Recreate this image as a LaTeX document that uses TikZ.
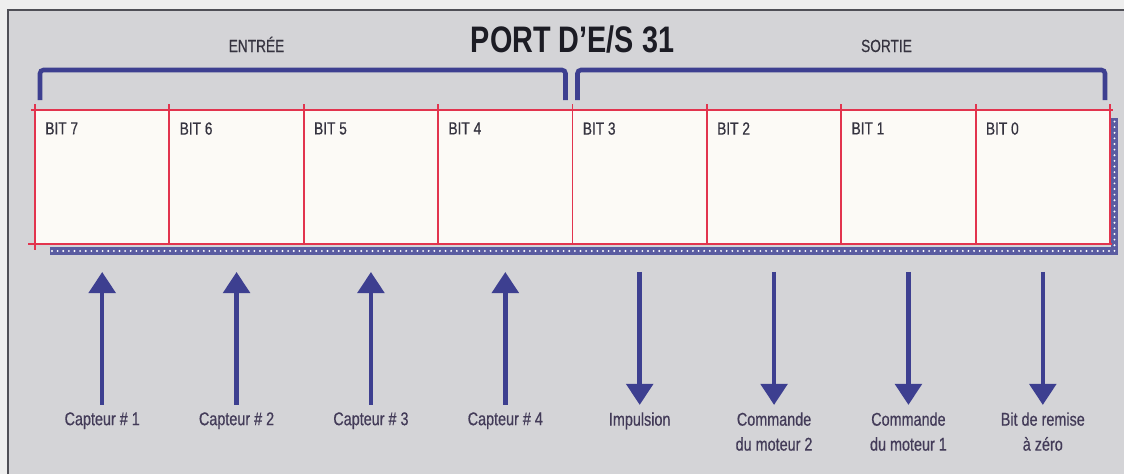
\documentclass[tikz,border=0pt]{standalone}
\usepackage{fontspec}
\setmainfont{Liberation Sans}[FakeStretch=0.78]
\newfontfamily\sigfont{Liberation Sans}[FakeStretch=0.78, FakeBold=0.5]
\usepackage{xcolor}
\usepackage{tikz}
\usetikzlibrary{arrows.meta, positioning, calc}
\definecolor{pagegray}{HTML}{EEEEEE}
\definecolor{panelgray}{HTML}{D4D4D7}
\definecolor{framegray}{HTML}{4F4F56}
\definecolor{regred}{HTML}{E2344E}
\definecolor{cellwhite}{HTML}{FCFAF6}
\definecolor{portblue}{HTML}{3D3F90}
\definecolor{ink}{HTML}{35333F}
\definecolor{sigink}{HTML}{433B58}
\definecolor{titleink}{HTML}{1C1C24}
\tikzset{
    cell/.style={draw=regred, fill=cellwhite, line width=1.1pt, outer sep=0pt, inner sep=0pt,
                 minimum width=2.688cm, minimum height=2.68cm},
    regline/.style={regred, line width=1.1pt},
    bitlbl/.style={anchor=north west, inner sep=0pt, text=ink, font=\sigfont\fontsize{10}{12}\selectfont},
    sig/.style={inner sep=0pt, align=center, text=sigink, font=\sigfont\fontsize{10.5}{14.2}\selectfont},
    grp/.style={anchor=base, inner sep=0pt, text=ink, font=\sigfont\fontsize{10}{12}\selectfont},
    brk/.style={portblue, line width=2.6pt, rounded corners=2pt},
    shad/.style={fill=portblue!85},
    shaddots/.style={white, line width=1.2pt, line cap=round, dash pattern=on 0pt off 3.2pt},
    inarr/.style={portblue, line width=2.6pt, -{Triangle[width=15pt,length=12pt]},
                  shorten <=0.14cm, shorten >=0.56cm},
    outarr/.style={portblue, line width=2.6pt, -{Triangle[width=15pt,length=12pt]},
                   shorten <=0.56cm, shorten >=0.14cm}
}
\begin{document}
\begin{tikzpicture}[x=0.02cm, y=-0.02cm]
        \useasboundingbox (0,0) rectangle (1124,474);
        \fill[pagegray] (0,0) rectangle (1124,474);
        \fill[panelgray] (8,10) rectangle (1124,474);
        \draw[framegray, line width=0.8pt] (8,474) -- (8,10) -- (1124,10);
        % register cells
        \node[cell, anchor=north west] (bit7) at (35,110) {};
        \node[cell, right=0pt of bit7] (bit6) {};
        \node[cell, right=0pt of bit6] (bit5) {};
        \node[cell, right=0pt of bit5] (bit4) {};
        \node[cell, right=0pt of bit4] (bit3) {};
        \node[cell, right=0pt of bit3] (bit2) {};
        \node[cell, right=0pt of bit2] (bit1) {};
        \node[cell, right=0pt of bit1] (bit0) {};
        % shadow
        \fill[shad] ($(bit7.south west)+(15,3)$) rectangle ($(bit0.south east)+(8,11)$);
        \fill[shad] ($(bit0.north east)+(1,8)$) rectangle ($(bit0.south east)+(8,11)$);
        \draw[shaddots] ($(bit7.south west)+(17,7)$) -- ($(bit0.south east)+(4.5,7)$) -- ($(bit0.north east)+(4.5,10)$);
        \draw[regline] ($(bit7.north west)+(-4,0)$) -- ($(bit0.north east)+(3,0)$);
        \draw[regline] ($(bit7.south west)+(-7,0)$) -- ($(bit0.south east)+(2,0)$);
        \draw[regline] (bit7.south west) -- ++(0,6);
        \foreach \n in {bit7,bit6,bit5,bit4,bit3,bit2,bit1,bit0}
            \draw[regline] (\n.north west) -- ++(0,-6);
        \draw[regline] (bit0.north east) -- ++(0,-6);
        \node[bitlbl] (t7) at ($(bit7.north west)+(10,12)$) {BIT 7};
        \node[bitlbl] (t6) at ($(bit6.north west)+(10,12)$) {BIT 6};
        \node[bitlbl] (t5) at ($(bit5.north west)+(10,12)$) {BIT 5};
        \node[bitlbl] (t4) at ($(bit4.north west)+(10,12)$) {BIT 4};
        \node[bitlbl] (t3) at ($(bit3.north west)+(10,12)$) {BIT 3};
        \node[bitlbl] (t2) at ($(bit2.north west)+(10,12)$) {BIT 2};
        \node[bitlbl] (t1) at ($(bit1.north west)+(10,12)$) {BIT 1};
        \node[bitlbl] (t0) at ($(bit0.north west)+(10,12)$) {BIT 0};
        % title and brackets
        \node[anchor=base, inner sep=0pt, text=titleink, font=\fontsize{21}{24}\selectfont\bfseries] (title)
            at ($(bit4.north east)+(0,-58)$) {PORT D'E/S 31};
        \node[grp] (entree) at ($(title.base)+(-316,0)$) {ENTRÉE};
        \node[grp] (sortie) at ($(title.base)+(314,0)$) {SORTIE};
        \draw[brk] ($(bit7.north west)+(5,-10)$) -- ++(0,-30) -| ($(bit4.north east)+(-7,-10)$);
        \draw[brk] ($(bit3.north west)+(5,-10)$) -- ++(0,-30) -| ($(bit0.north east)+(-5,-10)$);
        % signals
        \node[sig, below=3.36cm of bit7] (cap1) {Capteur \# 1};
        \node[sig, below=3.36cm of bit6] (cap2) {Capteur \# 2};
        \node[sig, below=3.36cm of bit5] (cap3) {Capteur \# 3};
        \node[sig, below=3.36cm of bit4] (cap4) {Capteur \# 4};
        \node[sig, below=3.36cm of bit3] (imp) {Impulsion};
        \node[sig, below=3.36cm of bit2] (mot2) {Commande\\du moteur 2};
        \node[sig, below=3.36cm of bit1] (mot1) {Commande\\du moteur 1};
        \node[sig, below=3.36cm of bit0] (raz) {Bit de remise\\à zéro};
        \draw[inarr] (cap1.north) -- (bit7.south);
        \draw[inarr] (cap2.north) -- (bit6.south);
        \draw[inarr] (cap3.north) -- (bit5.south);
        \draw[inarr] (cap4.north) -- (bit4.south);
        \draw[outarr] (bit3.south) -- (imp.north);
        \draw[outarr] (bit2.south) -- (mot2.north);
        \draw[outarr] (bit1.south) -- (mot1.north);
        \draw[outarr] (bit0.south) -- (raz.north);
    \end{tikzpicture}
\end{document}
